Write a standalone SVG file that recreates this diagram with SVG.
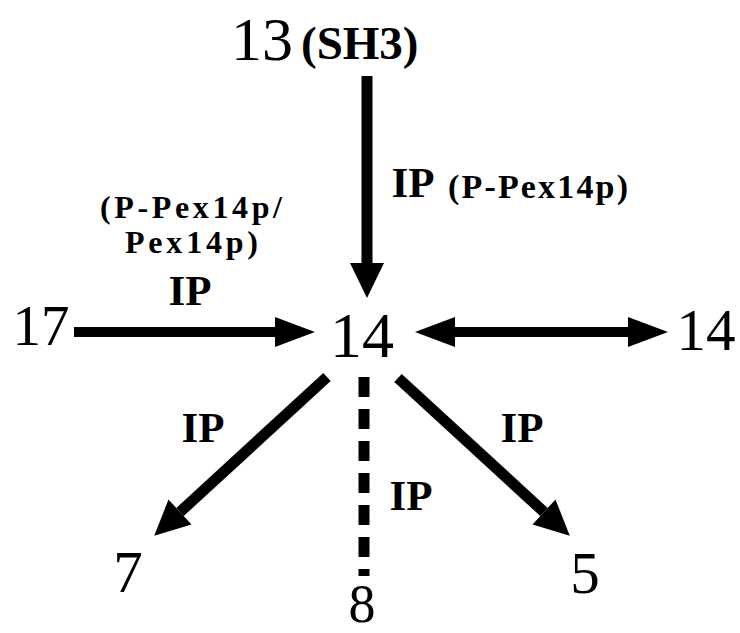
<svg xmlns="http://www.w3.org/2000/svg" width="740" height="633" viewBox="0 0 740 633">
<style>
.num{font-family:"Liberation Serif","Times New Roman",serif;fill:#000;text-anchor:middle}
.lbl{font-family:"Liberation Serif","Times New Roman",serif;font-weight:bold;fill:#000}
.ip{font-family:"Liberation Serif","Times New Roman",serif;font-weight:bold;font-size:43px;fill:#000;text-anchor:middle}
.edge{stroke:#000;fill:none}
</style>
<defs>
<marker id="headA" markerUnits="userSpaceOnUse" orient="auto-start-reverse" refX="0" refY="0" markerWidth="40" markerHeight="40" overflow="visible"><path d="M0,-17 L35,0 L0,17 z" fill="#000"/></marker>
<marker id="headB" markerUnits="userSpaceOnUse" orient="auto-start-reverse" refX="0" refY="0" markerWidth="40" markerHeight="40" overflow="visible"><path d="M0,-15 L40,0 L0,15 z" fill="#000"/></marker>
</defs>
<rect width="740" height="633" fill="#fff"/>
<g id="connectors">
<g id="e13-14">
<line class="edge" x1="367" y1="76" x2="367" y2="263" stroke-width="11" marker-end="url(#headA)"/>
<text class="ip" x="413" y="197">IP</text>
<text class="lbl" x="448" y="198" font-size="34" textLength="180" lengthAdjust="spacing">(P-Pex14p)</text>
</g>
<g id="e17-14">
<line class="edge" x1="74" y1="332" x2="275" y2="332" stroke-width="10" marker-end="url(#headB)"/>
<text class="lbl" x="100" y="218" font-size="32" textLength="182" lengthAdjust="spacing">(P-Pex14p/</text>
<text class="lbl" x="125" y="253" font-size="32" textLength="133" lengthAdjust="spacing">Pex14p)</text>
<text class="ip" x="190" y="305">IP</text>
</g>
<g id="e14-14">
<line class="edge" x1="455" y1="332" x2="628" y2="332" stroke-width="10" marker-start="url(#headB)" marker-end="url(#headB)"/>
</g>
<g id="e14-7">
<line class="edge" x1="327" y1="377" x2="180" y2="512" stroke-width="11" marker-end="url(#headA)"/>
<text class="ip" x="203" y="442">IP</text>
</g>
<g id="e14-8">
<line class="edge" x1="364" y1="377" x2="364" y2="576" stroke-width="11" stroke-dasharray="20 12"/>
<text class="ip" x="411" y="510">IP</text>
</g>
<g id="e14-5">
<line class="edge" x1="398" y1="378" x2="544" y2="512" stroke-width="11" marker-end="url(#headA)"/>
<text class="ip" x="522" y="442">IP</text>
</g>
</g>
<g id="n13">
<text class="num" x="262" y="60" font-size="62">13</text>
<text class="lbl" x="301" y="59" font-size="47">(SH3)</text>
</g>
<g id="n14"><text class="num" x="362" y="357" font-size="64">14</text></g>
<g id="n17"><text class="num" x="41" y="345" font-size="57">17</text></g>
<g id="n14b"><text class="num" x="706" y="350" font-size="59">14</text></g>
<g id="n7"><text class="num" x="128" y="592" font-size="59">7</text></g>
<g id="n8"><text class="num" x="362" y="622" font-size="54">8</text></g>
<g id="n5"><text class="num" x="585" y="593" font-size="59">5</text></g>
</svg>
